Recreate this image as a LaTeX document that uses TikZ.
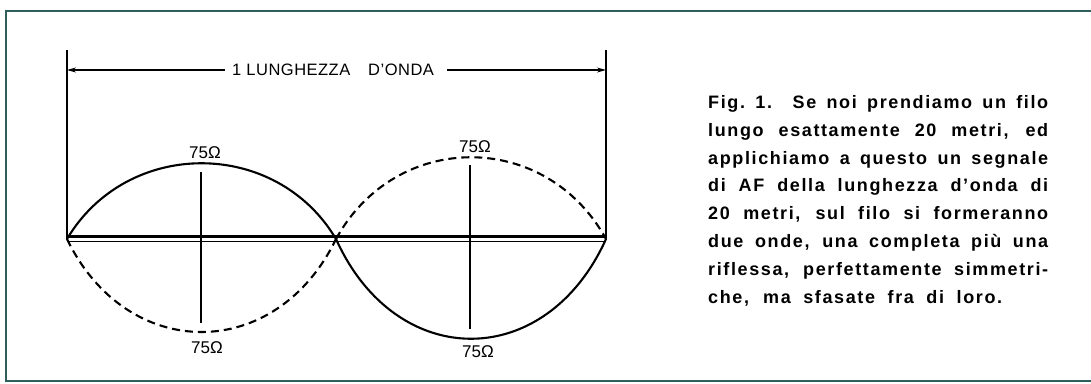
\documentclass[tikz,border=0pt]{standalone}
\usepackage{fontspec}
\setmainfont{Liberation Sans}
\usetikzlibrary{arrows.meta}
\definecolor{framecol}{HTML}{2E5E5C}
\begin{document}
\begin{tikzpicture}[x=1pt,y=-1pt,
  wave/.style={line width=2.1pt, line cap=round},
  dashwave/.style={wave, line cap=butt, dash pattern=on 8pt off 5pt},
  thin/.style={line width=1.1pt},
  dimarrow/.style={line width=1.1pt, -{Stealth[length=9pt,width=5pt]}},
  ohm/.style={font=\fontsize{17}{17}\selectfont, inner sep=0pt},
  dimlabel/.style={anchor=west, inner sep=0pt, font=\fontsize{16.5}{16.5}\selectfont\addfontfeatures{LetterSpace=3}},
  capline/.style={anchor=base west, inner sep=0pt, font=\fontsize{18}{28}\selectfont\bfseries\addfontfeatures{LetterSpace=9}},
  framestyle/.style={draw=framecol, line width=2.2pt}]
\useasboundingbox (0,0) rectangle (1091,383);
% frame
\draw[framestyle] (1091,11) -- (6,11) -- (6,381) -- (1091,381);
% key points
\coordinate (A) at (67,239);
\coordinate (M) at (336,239);
\coordinate (B) at (606,239);
\coordinate (LT) at (67,50);
\coordinate (RT) at (606,50);
% end verticals
\draw[thin] (LT) -- (A);
\draw[thin] (RT) -- (B);
% wire (double line)
\draw[line width=2.2pt] ([yshift=2.6pt]A) -- ([yshift=2.6pt]B);
\draw[line width=1.6pt] ([yshift=-2.6pt]A) -- ([yshift=-2.6pt]B);
% waves
\draw[wave] (A) .. controls (127,138) and (276,138) .. (M);
\draw[dashwave] (A) .. controls (127,363) and (276,363) .. (M);
\draw[dashwave] (M) .. controls (396,130) and (546,130) .. (B);
\draw[wave] (M) .. controls (396,372) and (546,372) .. (B);
% centre verticals
\coordinate (LVt) at (201,172);
\coordinate (LVb) at (201,323);
\coordinate (RVt) at (470,165);
\coordinate (RVb) at (470,329);
\draw[thin] (LVt) -- (LVb);
\draw[thin] (RVt) -- (RVb);
% impedance labels
\node[ohm] (o1) at (205,153) {75Ω};
\node[ohm] (o2) at (475,147) {75Ω};
\node[ohm] (o3) at (207,348) {75Ω};
\node[ohm] (o4) at (478,352) {75Ω};
% wavelength label and arrows
\node[dimlabel] (len1) at (232,70) {1 LUNGHEZZA};
\node[dimlabel] (len2) at (368,70) {D'ONDA};
\draw[dimarrow] ([xshift=-7pt]len1.west) -- (len1.west -| LT);
\draw[dimarrow] ([xshift=13pt]len2.east) -- (len2.east -| RT);
% caption
\node[capline] (c1) at (708,108.5) {\makebox[340pt][s]{Fig.\ 1.\ \ Se noi prendiamo un filo}};
\node[capline] (c2) at (708,136.3) {\makebox[340pt][s]{lungo esattamente 20 metri, ed}};
\node[capline] (c3) at (708,164.1) {\makebox[340pt][s]{applichiamo a questo un segnale}};
\node[capline] (c4) at (708,191.9) {\makebox[340pt][s]{di AF della lunghezza d'onda di}};
\node[capline] (c5) at (708,219.7) {\makebox[340pt][s]{20 metri, sul filo si formeranno}};
\node[capline] (c6) at (708,247.5) {\makebox[340pt][s]{due onde, una completa più una}};
\node[capline] (c7) at (708,275.3) {\makebox[340pt][s]{riflessa, perfettamente simmetri-}};
\node[capline] (c8) at (708,303.1) {\makebox[294pt][s]{che, ma sfasate fra di loro.}};
\end{tikzpicture}
\end{document}
